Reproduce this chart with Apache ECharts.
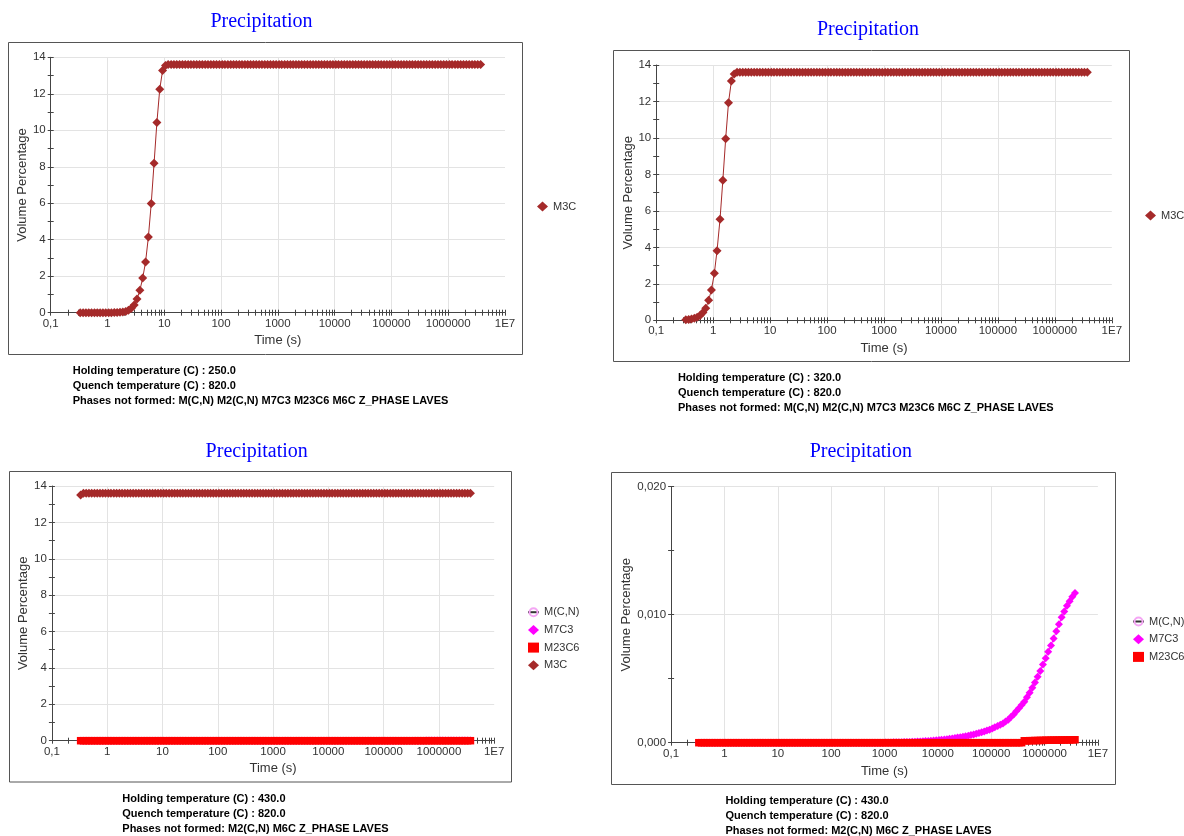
<!DOCTYPE html>
<html><head><meta charset="utf-8">
<script src="https://cdn.jsdelivr.net/npm/echarts@6/dist/echarts.min.js"></script>
<style>html,body{margin:0;padding:0;background:#fff}#c{width:1184px;height:836px}</style>
</head><body><div id="c"></div>
<script>
// ---------- DATA ----------
const times = [
 0.331,0.372,0.417,0.468,0.525,0.589,0.661,0.741,0.832,0.933,
 1.05,1.17,1.32,1.48,1.66,1.86,2.09,2.34,2.63,2.95,3.31,3.72,4.17,4.68,5.25,5.89,6.61,7.41,8.32,9.33,
 10.5,11.7,13.2,14.8,16.6,18.6,20.9,23.4,26.3,29.5,33.1,37.2,41.7,46.8,52.5,58.9,66.1,74.1,83.2,93.3,
 105,117,132,148,166,186,209,234,263,295,331,372,417,468,525,589,661,741,832,933,
 1050,1170,1320,1480,1660,1860,2090,2340,2630,2950,3310,3720,4170,4680,5250,5890,6610,7410,8320,9330,
 10500,11700,13200,14800,16600,18600,20900,23400,26300,29500,33100,37200,41700,46800,52500,58900,66100,74100,83200,93300,
 105000,117000,132000,148000,166000,186000,209000,234000,263000,295000,331000,372000,417000,468000,525000,589000,661000,741000,832000,933000,
 1050000,1170000,1320000,1480000,1660000,1860000,2090000,2340000,2630000,2950000,3310000,3720000
];
const m3c_250 = [
 0,0,0,0,0,0,0,0,0,0,
 0.002,0.003,0.005,0.01,0.02,0.04,0.07,0.13,0.24,0.42,0.75,1.23,1.9,2.78,4.15,5.98,8.19,10.42,12.25,13.27,
 13.55,13.6,13.6,13.6,13.6,13.6,13.6,13.6,13.6,13.6,13.6,13.6,13.6,13.6,13.6,13.6,13.6,13.6,13.6,13.6,
 13.6,13.6,13.6,13.6,13.6,13.6,13.6,13.6,13.6,13.6,13.6,13.6,13.6,13.6,13.6,13.6,13.6,13.6,13.6,13.6,
 13.6,13.6,13.6,13.6,13.6,13.6,13.6,13.6,13.6,13.6,13.6,13.6,13.6,13.6,13.6,13.6,13.6,13.6,13.6,13.6,
 13.6,13.6,13.6,13.6,13.6,13.6,13.6,13.6,13.6,13.6,13.6,13.6,13.6,13.6,13.6,13.6,13.6,13.6,13.6,13.6,
 13.6,13.6,13.6,13.6,13.6,13.6,13.6,13.6,13.6,13.6,13.6,13.6,13.6,13.6,13.6,13.6,13.6,13.6,13.6,13.6,
 13.6,13.6,13.6,13.6,13.6,13.6,13.6,13.6,13.6,13.6,13.6,13.6
];
const m3c_320 = [
 0.03,0.04,0.07,0.11,0.17,0.27,0.43,0.66,1.1,1.66,
 2.58,3.82,5.54,7.68,9.96,11.93,13.12,13.5,13.6,13.6,13.6,13.6,13.6,13.6,13.6,13.6,13.6,13.6,13.6,13.6,
 13.6,13.6,13.6,13.6,13.6,13.6,13.6,13.6,13.6,13.6,13.6,13.6,13.6,13.6,13.6,13.6,13.6,13.6,13.6,13.6,
 13.6,13.6,13.6,13.6,13.6,13.6,13.6,13.6,13.6,13.6,13.6,13.6,13.6,13.6,13.6,13.6,13.6,13.6,13.6,13.6,
 13.6,13.6,13.6,13.6,13.6,13.6,13.6,13.6,13.6,13.6,13.6,13.6,13.6,13.6,13.6,13.6,13.6,13.6,13.6,13.6,
 13.6,13.6,13.6,13.6,13.6,13.6,13.6,13.6,13.6,13.6,13.6,13.6,13.6,13.6,13.6,13.6,13.6,13.6,13.6,13.6,
 13.6,13.6,13.6,13.6,13.6,13.6,13.6,13.6,13.6,13.6,13.6,13.6,13.6,13.6,13.6,13.6,13.6,13.6,13.6,13.6,
 13.6,13.6,13.6,13.6,13.6,13.6,13.6,13.6,13.6,13.6,13.6,13.6
];
const m3c_430 = [
 13.5,13.6,13.6,13.6,13.6,13.6,13.6,13.6,13.6,13.6,
 13.6,13.6,13.6,13.6,13.6,13.6,13.6,13.6,13.6,13.6,13.6,13.6,13.6,13.6,13.6,13.6,13.6,13.6,13.6,13.6,
 13.6,13.6,13.6,13.6,13.6,13.6,13.6,13.6,13.6,13.6,13.6,13.6,13.6,13.6,13.6,13.6,13.6,13.6,13.6,13.6,
 13.6,13.6,13.6,13.6,13.6,13.6,13.6,13.6,13.6,13.6,13.6,13.6,13.6,13.6,13.6,13.6,13.6,13.6,13.6,13.6,
 13.6,13.6,13.6,13.6,13.6,13.6,13.6,13.6,13.6,13.6,13.6,13.6,13.6,13.6,13.6,13.6,13.6,13.6,13.6,13.6,
 13.6,13.6,13.6,13.6,13.6,13.6,13.6,13.6,13.6,13.6,13.6,13.6,13.6,13.6,13.6,13.6,13.6,13.6,13.6,13.6,
 13.6,13.6,13.6,13.6,13.6,13.6,13.6,13.6,13.6,13.6,13.6,13.6,13.6,13.6,13.6,13.6,13.6,13.6,13.6,13.6,
 13.6,13.6,13.6,13.6,13.6,13.6,13.6,13.6,13.6,13.6,13.6,13.6
];
const m7c3_430 = [
 0,0,0,0,0,0,0,0,0,0,
 0,0,0,0,0,0,0,0,0,0,0,0,0,0,0,0,0,0,0,0,
 0,0,0,0,0,0,0,0,0,0,0,0,0,0,0,0,0,0,0,0,
 0,0,0,0,0,0,0,0,0,0,0,0,0,0,0,0,0,0,0,0,
 0.00002,0.00002,0.00002,0.00003,0.00003,0.00004,0.00004,0.00005,0.00005,0.00006,0.00007,0.00008,0.00009,0.0001,0.00011,0.00013,0.00014,0.00016,0.00017,0.00019,
 0.00021,0.00023,0.00025,0.00027,0.0003,0.00033,0.00036,0.0004,0.00043,0.00047,0.00051,0.00055,0.0006,0.00065,0.0007,0.00076,0.00082,0.00088,0.00095,0.00102,
 0.0011,0.0012,0.0013,0.0014,0.0015,0.00165,0.0018,0.002,0.0022,0.00245,0.0027,0.00295,0.0032,0.00355,0.0039,0.0043,0.0047,0.00515,0.0056,0.0061,
 0.0066,0.0071,0.0076,0.00815,0.0087,0.00925,0.0098,0.01025,0.0107,0.01105,0.0114,0.0117
];
const m23c6_430 = [
 0,0,0,0,0,0,0,0,0,0,
 0,0,0,0,0,0,0,0,0,0,0,0,0,0,0,0,0,0,0,0,
 0,0,0,0,0,0,0,0,0,0,0,0,0,0,0,0,0,0,0,0,
 0,0,0,0,0,0,0,0,0,0,0,0,0,0,0,0,0,0,0,0,
 0,0,0,0,0,0,0,0,0,0,0,0,0,0,0,0,0,0,0,0,
 0,0,0,0,0,0,0,0,0,0,0,0,0,0,0,0,0,0,0,0,
 0,0,0,0,0,0,0,0,0,0,0,0,0.00015,0.00015,0.00016,0.00016,0.00017,0.00017,0.00018,0.00018,
 0.00019,0.00019,0.0002,0.0002,0.0002,0.00021,0.00021,0.00021,0.00022,0.00022,0.00022,0.00023
];
const mcn_430 = [];
const xTickLabels = ['0,1','1','10','100','1000','10000','100000','1000000','1E7'];
const xMinorTicks = [
 0.1,0.2,0.3,0.4,0.5,0.6,0.7,0.8,0.9,
 1,2,3,4,5,6,7,8,9,
 10,20,30,40,50,60,70,80,90,
 100,200,300,400,500,600,700,800,900,
 1000,2000,3000,4000,5000,6000,7000,8000,9000,
 10000,20000,30000,40000,50000,60000,70000,80000,90000,
 100000,200000,300000,400000,500000,600000,700000,800000,900000,
 1000000,2000000,3000000,4000000,5000000,6000000,7000000,8000000,9000000,
 10000000
];
const captions250 = ['Holding temperature (C) : 250.0','Quench temperature (C) : 820.0','Phases not formed: M(C,N) M2(C,N) M7C3 M23C6 M6C Z_PHASE LAVES'];
const captions320 = ['Holding temperature (C) : 320.0','Quench temperature (C) : 820.0','Phases not formed: M(C,N) M2(C,N) M7C3 M23C6 M6C Z_PHASE LAVES'];
const captions430 = ['Holding temperature (C) : 430.0','Quench temperature (C) : 820.0','Phases not formed: M2(C,N) M6C Z_PHASE LAVES'];

// ---------- LAYOUT / STYLE ----------
const FONT = '"Liberation Sans", Arial, Helvetica, sans-serif';
const AX = '#444';
const GRIDC = '#E3E3E3';
const styles = {
  'M(C,N)': {symbol:'circle', symbolSize:9, itemStyle:{color:'rgba(255,255,255,0)', borderColor:'#F4A6F4', borderWidth:1}, lineStyle:{color:'#333', width:1}},
  'M7C3': {symbol:'diamond', symbolSize:8, itemStyle:{color:'#FF00FF'}, lineStyle:{color:'#FF00FF', width:1}, icon:'diamond'},
  'M23C6': {symbol:'rect', symbolSize:[7.5,7.5], itemStyle:{color:'#FF0000'}, lineStyle:{color:'#FF0000', width:1}, icon:'rect'},
  'M3C': {symbol:'diamond', symbolSize:9, itemStyle:{color:'#A52A2A'}, lineStyle:{color:'#A52A2A', width:1}, icon:'diamond'}
};
const panels = [
  {titleX:261.5, titleY:21.7, frame:[8.5,42.5,514,312], grid:{left:50.7, top:57.3, width:454.3, height:255.4},
   yMax:14, yInt:2, yFmt:null, yNameGap:21, xNameGap:21.5,
   series:[['M3C', m3c_250]], legend:{left:537, top:201, items:['M3C']}, cap:{x:72.7, y:370.7, lines:captions250}},
  {titleX:868, titleY:30, frame:[613.5,50.5,516,311], grid:{left:656.2, top:65, width:455.6, height:255.3},
   yMax:14, yInt:2, yFmt:null, yNameGap:20.5, xNameGap:21.5,
   series:[['M3C', m3c_320]], legend:{left:1145, top:210, items:['M3C']}, cap:{x:677.9, y:378.3, lines:captions320}},
  {titleX:256.7, titleY:451.7, frame:[9.5,471.5,502,310.5], grid:{left:51.9, top:486, width:442.3, height:254.7},
   yMax:14, yInt:2, yFmt:null, yNameGap:20.5, xNameGap:21.5,
   series:[['M(C,N)', mcn_430],['M7C3', m7c3_430],['M23C6', m23c6_430],['M3C', m3c_430]],
   legend:{left:527, top:606.7, items:['M(C,N)','M7C3','M23C6','M3C']}, cap:{x:122.3, y:798.7, lines:captions430}},
  {titleX:860.8, titleY:451.7, frame:[611.5,472.5,504,312], grid:{left:671.1, top:486.7, width:426.8, height:256},
   yMax:0.02, yInt:0.01, yFmt:v=>v.toFixed(3).replace('.',','), yNameGap:38.5, xNameGap:22,
   series:[['M(C,N)', mcn_430],['M7C3', m7c3_430],['M23C6', m23c6_430]],
   legend:{left:1132, top:616, items:['M(C,N)','M7C3','M23C6']}, cap:{x:725.4, y:800.7, lines:captions430}}
];

const option = {animation:false, grid:[], xAxis:[], yAxis:[], series:[], legend:[], graphic:{elements:[]}};
const labelFmt = v => xTickLabels[Math.round(Math.log10(v)) + 1];

panels.forEach((p, g) => {
  option.grid.push(Object.assign({containLabel:false}, p.grid));
  option.xAxis.push({
    type:'log', logBase:10, gridIndex:g, min:0.1, max:1e7, splitNumber:8, position:'bottom',
    axisLine:{show:true, lineStyle:{color:AX, width:1}}, axisTick:{show:false},
    axisLabel:{formatter:labelFmt, color:'#333', fontSize:11.5, fontFamily:FONT, margin:5},
    splitLine:{show:true, showMinLine:false, showMaxLine:false, lineStyle:{color:GRIDC, width:1}},
    name:'Time (s)', nameLocation:'middle', nameGap:p.xNameGap,
    nameTextStyle:{fontSize:13, color:'#333', fontFamily:FONT}
  });
  [false, true].forEach(inside => option.xAxis.push({
    type:'log', logBase:10, gridIndex:g, min:0.1, max:1e7, position:'bottom',
    axisLine:{show:false}, axisLabel:{show:false}, splitLine:{show:false},
    axisTick:{show:true, inside:inside, length:3, customValues:xMinorTicks, lineStyle:{color:AX, width:1}}
  }));
  option.yAxis.push({
    type:'value', gridIndex:g, min:0, max:p.yMax, interval:p.yInt, position:'left',
    axisLine:{show:true, lineStyle:{color:AX, width:1}},
    axisTick:{show:true, length:3, lineStyle:{color:AX}},
    minorTick:{show:true, splitNumber:2, length:3, lineStyle:{color:AX}},
    axisLabel:Object.assign({color:'#333', fontSize:11.5, fontFamily:FONT, margin:5}, p.yFmt ? {formatter:p.yFmt} : {}),
    splitLine:{show:true, showMinLine:false, lineStyle:{color:GRIDC, width:1}},
    name:'Volume Percentage', nameLocation:'middle', nameRotate:90, nameGap:p.yNameGap,
    nameTextStyle:{fontSize:13, color:'#333', fontFamily:FONT}
  });
  option.yAxis.push({
    type:'value', gridIndex:g, min:0, max:p.yMax, interval:p.yInt / 2, position:'left',
    axisLine:{show:false}, axisLabel:{show:false}, splitLine:{show:false},
    axisTick:{show:true, inside:true, length:3, lineStyle:{color:AX}}
  });
  p.series.forEach(([name, vals]) => {
    const st = styles[name];
    option.series.push({
      type:'line', name:name, xAxisIndex:3 * g, yAxisIndex:2 * g,
      data: vals.map((v, i) => [times[i], v]),
      symbol:st.symbol, symbolSize:st.symbolSize, showSymbol:true, showAllSymbol:true,
      itemStyle:st.itemStyle, lineStyle:st.lineStyle, emphasis:{disabled:true}, silent:true
    });
  });
  option.legend.push({
    orient:'vertical', left:p.legend.left, top:p.legend.top, padding:0,
    itemWidth:11, itemHeight:10, itemGap:6.7, selectedMode:false,
    textStyle:{fontSize:11, color:'#333', fontFamily:FONT},
    data:p.legend.items.map(n => styles[n].icon ? {name:n, icon:styles[n].icon} : {name:n})
  });
  const [fx, fy, fw, fh] = p.frame;
  option.graphic.elements.push({type:'rect', shape:{x:fx, y:fy, width:fw, height:fh}, style:{fill:'none', stroke:'#555', lineWidth:1}, silent:true});
  option.graphic.elements.push({type:'text', x:p.titleX, y:p.titleY, silent:true,
    style:{text:'Precipitation', font:'20px "Liberation Serif", "Times New Roman", serif', fill:'#0000FF', align:'center', verticalAlign:'middle'}});
  p.cap.lines.forEach((t, i) => option.graphic.elements.push({type:'text', x:p.cap.x, y:p.cap.y + 15 * i, silent:true,
    style:{text:t, font:'bold 11px ' + FONT, fill:'#000', align:'left', verticalAlign:'middle'}}));
});

const chart = echarts.init(document.getElementById('c'), null, {renderer:'canvas'});
chart.setOption(option);
</script>
</body></html>
